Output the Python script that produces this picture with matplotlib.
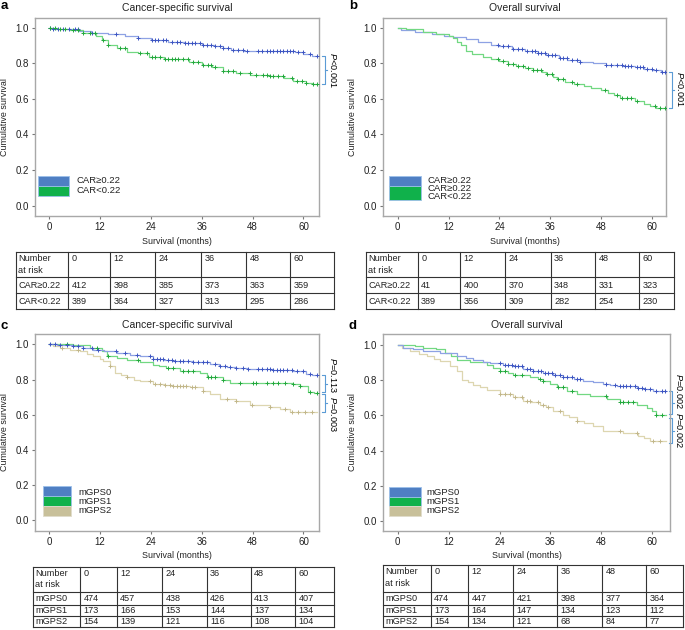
import numpy as np
import matplotlib.pyplot as plt
from matplotlib.patches import Rectangle

plt.rcParams['font.family'] = ['Liberation Sans', 'DejaVu Sans']
plt.rcParams['mathtext.fontset'] = 'custom'
plt.rcParams['mathtext.rm'] = 'Liberation Sans'
plt.rcParams['mathtext.it'] = 'Liberation Sans:italic'

month_ticks = [0, 12, 24, 36, 48, 60]
surv_ticks = [0.0, 0.2, 0.4, 0.6, 0.8, 1.0]
follow_up_end = 63.3

# (a) cancer-specific survival, CAR groups
a_hi_t = [0, 1, 4, 7, 10, 14, 18, 21, 24, 28, 32, 36, 39, 41, 43, 46, 58, 60, 62]
a_hi_s = [1.0, 0.995, 0.99, 0.983, 0.972, 0.963, 0.955, 0.942, 0.932, 0.922, 0.912, 0.903,
          0.895, 0.885, 0.875, 0.867, 0.862, 0.852, 0.84]
a_hi_cens = [0.2, 1.0, 2.2, 3.4, 4.6, 6.1, 6.9, 10.1, 15.9, 21.1, 24.2, 25.0, 25.8, 26.9, 27.7,
             28.9, 30.1, 30.9, 32.1, 32.8, 33.6, 34.4, 35.6, 36.4, 37.2, 38.3, 39.1, 40.3, 41.1,
             42.3, 43.4, 44.6, 45.8, 46.6, 49.3, 50.1, 51.3, 52.1, 52.9, 53.7, 54.4, 55.2, 56.0,
             56.8, 57.6, 58.8, 59.9, 61.5, 63.1]
a_lo_t = [0, 2, 5, 8, 11, 12.5, 14, 16, 18.5, 21, 23.5, 27, 33, 36, 38.5, 41, 44, 47.5, 52,
          55.5, 57.5, 60.5, 62]
a_lo_s = [1.0, 0.995, 0.987, 0.968, 0.953, 0.931, 0.903, 0.884, 0.865, 0.856, 0.837, 0.822,
          0.809, 0.79, 0.777, 0.758, 0.744, 0.734, 0.729, 0.716, 0.702, 0.691, 0.684]
a_lo_cens = [0.2, 1.4, 2.6, 3.8, 5.7, 6.9, 8.1, 9.7, 10.8, 12.8, 14.0, 16.7, 17.9, 21.4, 23.0,
             24.2, 25.0, 26.2, 27.3, 28.1, 28.9, 29.7, 30.5, 31.7, 32.8, 34.0, 35.2, 36.4, 37.6,
             38.3, 39.1, 41.1, 42.3, 43.4, 45.0, 47.4, 48.9, 50.5, 51.3, 52.1, 52.9, 54.1, 55.2,
             57.2, 58.4, 59.6, 60.7, 62.3, 63.1]

# (b) overall survival, CAR groups
b_hi_t = [0, 0.7, 4, 8, 11, 13, 16, 19, 22, 24, 27, 30, 33, 35, 38, 40, 43, 46, 49, 53, 56,
          58, 60, 62]
b_hi_s = [1.0, 0.987, 0.978, 0.965, 0.956, 0.946, 0.935, 0.918, 0.905, 0.897, 0.883, 0.869,
          0.856, 0.847, 0.832, 0.819, 0.808, 0.8, 0.79, 0.783, 0.778, 0.77, 0.762, 0.753]
b_hi_cens = [23.7, 24.9, 26.1, 27.3, 28.4, 29.2, 30.4, 31.6, 32.4, 33.1, 33.9, 34.7, 35.5, 36.3,
             37.1, 38.3, 39.0, 39.8, 41.0, 42.2, 43.0, 49.2, 50.4, 51.6, 52.8, 53.6, 54.4, 55.1,
             56.3, 57.1, 57.9, 58.7, 59.9, 61.0, 62.2, 63.0]
b_lo_t = [0, 2, 6, 9, 12, 13, 14, 15, 16, 17.5, 20, 22, 24, 26, 28, 30, 32, 34, 35, 36.5,
          37.5, 39.5, 41.5, 44, 45.5, 48, 49.5, 51, 52.5, 56, 58, 59.5, 61]
b_lo_s = [1.0, 0.99, 0.978, 0.965, 0.953, 0.94, 0.92, 0.903, 0.871, 0.85, 0.837, 0.826, 0.815,
          0.796, 0.785, 0.772, 0.763, 0.753, 0.74, 0.725, 0.71, 0.697, 0.682, 0.672, 0.66, 0.65,
          0.635, 0.622, 0.603, 0.59, 0.571, 0.56, 0.547]
b_lo_cens = [23.7, 24.9, 26.1, 27.3, 28.4, 29.6, 30.8, 32.0, 32.8, 33.9, 35.1, 36.3, 37.8, 39.0,
             41.0, 42.2, 48.9, 51.6, 52.8, 54.0, 55.1, 56.3, 60.6, 61.8, 63.0]

# (c) cancer-specific survival, mGPS groups
c_0_t = [0, 2, 5.7, 8, 10.4, 13, 16, 19, 21.4, 24.6, 27, 29.3, 34, 37.9, 40, 41.9, 44, 46.6,
         52.9, 57.6, 60.7, 62]
c_0_s = [1.0, 0.995, 0.989, 0.98, 0.97, 0.96, 0.95, 0.94, 0.932, 0.918, 0.912, 0.907, 0.9,
         0.888, 0.878, 0.869, 0.864, 0.86, 0.852, 0.847, 0.831, 0.824]
c_0_cens = [0.2, 1.4, 2.6, 4.2, 5.7, 6.9, 8.1, 10.1, 11.6, 15.9, 17.9, 20.7, 23.8, 24.6, 25.4,
            26.2, 26.9, 28.1, 28.9, 29.7, 30.9, 31.7, 32.8, 34.0, 35.2, 36.4, 37.2, 39.1, 40.3,
            41.5, 42.7, 44.2, 45.8, 47.0, 49.3, 50.1, 51.3, 52.1, 52.9, 53.7, 54.4, 55.2, 56.0,
            57.2, 58.4, 59.9, 61.5, 63.1]
c_1_t = [0, 5.7, 9.7, 12.4, 13.6, 16, 18.3, 21.4, 24.6, 26, 27.7, 30.9, 35.6, 37.2, 41.1, 42.7,
         57.6, 59.2, 61.1, 62.5]
c_1_s = [1.0, 0.994, 0.979, 0.96, 0.932, 0.922, 0.913, 0.9, 0.884, 0.875, 0.865, 0.847, 0.837,
         0.812, 0.799, 0.78, 0.775, 0.761, 0.729, 0.722]
c_1_cens = [4.2, 11.2, 14.0, 21.1, 28.1, 29.3, 31.7, 32.8, 34.0, 37.6, 38.3, 39.1, 41.1, 45.0,
            48.2, 48.9, 51.3, 52.9, 54.1, 55.6, 57.6, 59.2, 61.5, 63.1]
c_2_t = [0, 1, 2.6, 5, 7.3, 9, 10.4, 12, 12.8, 14.4, 15.6, 17, 18.3, 20, 21.4, 24.6, 27, 29.3,
         33.2, 36.4, 38, 40.3, 44.2, 47.4, 52.1, 54.5, 56.8]
c_2_s = [1.0, 0.99, 0.979, 0.97, 0.96, 0.945, 0.932, 0.918, 0.903, 0.875, 0.837, 0.825, 0.812,
         0.8, 0.79, 0.774, 0.768, 0.765, 0.756, 0.737, 0.72, 0.691, 0.676, 0.657, 0.642, 0.632,
         0.615]
c_2_cens = [3.0, 6.9, 14.4, 18.3, 23.8, 25.0, 26.2, 27.3, 28.5, 29.3, 30.1, 30.9, 31.7, 32.4,
            33.6, 34.4, 36.4, 41.9, 44.2, 47.8, 52.1, 55.6, 57.2, 58.8, 60.3, 61.9]

# (d) overall survival, mGPS groups
d_0_t = [0, 1.3, 3.5, 6, 10, 13.9, 16, 17.8, 20, 21.8, 24.9, 27, 29.6, 32, 34.3, 36.5, 39,
         41.5, 43.7, 46, 48.5, 50, 51.6, 56.3, 58, 60.2, 62]
d_0_s = [1.0, 0.983, 0.975, 0.964, 0.955, 0.936, 0.925, 0.917, 0.905, 0.898, 0.888, 0.878,
         0.865, 0.853, 0.841, 0.83, 0.816, 0.806, 0.797, 0.787, 0.778, 0.772, 0.765, 0.756,
         0.75, 0.74, 0.736]
d_0_cens = [24.1, 25.3, 26.1, 26.9, 27.6, 28.4, 29.2, 30.4, 31.2, 32.0, 33.1, 33.9, 34.7, 35.5,
            36.3, 37.1, 38.3, 39.0, 39.8, 41.0, 42.2, 43.0, 49.2, 51.2, 52.4, 53.2, 53.9, 54.7,
            55.9, 56.7, 57.5, 58.3, 59.5, 61.0, 62.2, 63.0]
d_1_t = [0, 4, 6, 9, 11.1, 12.5, 13.9, 17, 21, 22.5, 24.1, 26, 27.2, 31.2, 33, 34.3, 36, 37.5,
         40, 42.2, 45.3, 49.3, 52.4, 56.3, 58.7, 60, 61]
d_1_s = [1.0, 0.993, 0.985, 0.975, 0.955, 0.935, 0.917, 0.905, 0.888, 0.87, 0.85, 0.84, 0.828,
         0.816, 0.805, 0.794, 0.778, 0.76, 0.74, 0.722, 0.708, 0.695, 0.676, 0.661, 0.642,
         0.625, 0.603]
d_1_cens = [24.1, 25.3, 27.6, 29.2, 33.5, 34.3, 37.9, 39.0, 41.0, 49.2, 52.4, 53.2, 54.4, 55.5,
            61.0, 62.2]
d_2_t = [0, 1, 2.9, 5, 6.8, 8.5, 10, 12.3, 13.9, 15.1, 16.5, 17.8, 19.5, 21, 24.1, 27.2, 29.6,
         31.5, 33.5, 35, 36.7, 39, 40.5, 42.2, 44, 46.1, 48.5, 53.2, 56.7, 58, 59.5]
d_2_s = [1.0, 0.985, 0.964, 0.95, 0.936, 0.92, 0.907, 0.879, 0.85, 0.803, 0.79, 0.774, 0.76,
         0.746, 0.722, 0.703, 0.684, 0.675, 0.661, 0.645, 0.623, 0.604, 0.59, 0.57, 0.555,
         0.538, 0.51, 0.5, 0.481, 0.47, 0.453]
d_2_cens = [24.1, 25.3, 26.5, 27.6, 29.2, 30.4, 31.2, 33.1, 34.3, 35.5, 38.3, 42.2, 52.4, 56.3,
            60.2, 61.8]

# numbers at risk
risk_months = [0, 12, 24, 36, 48, 60]
car_labels = ['CAR\u22650.22', 'CAR<0.22']
gps_labels = ['mGPS0', 'mGPS1', 'mGPS2']
a_risk_hi = [412, 398, 385, 373, 363, 359]
a_risk_lo = [389, 364, 327, 313, 295, 286]
b_risk_hi = [41, 400, 370, 348, 331, 323]
b_risk_lo = [389, 356, 309, 282, 254, 230]
c_risk_0 = [474, 457, 438, 426, 413, 407]
c_risk_1 = [173, 166, 153, 144, 137, 134]
c_risk_2 = [154, 139, 121, 116, 108, 104]
d_risk_0 = [474, 447, 421, 398, 377, 364]
d_risk_1 = [173, 164, 147, 134, 123, 112]
d_risk_2 = [154, 134, 121, 68, 84, 77]

# colours
BLUE = dict(line='#8ea2e4', mark='#3d55c2', box='#4f7fc3', edge='#9cc0ea')
GREEN = dict(line='#72d882', mark='#22a83c', box='#10b14b', edge='#9cc0ea')
TAN = dict(line='#ddd6b0', mark='#c2b78a', box='#c8c09a', edge='#e0dccb')
BRACKET = '#5b9bd5'

W, H = 685, 630
PPM = 50.9 / 12  # pixels per month


def km(ax, t, s, cens, col):
    tt = list(t) + [follow_up_end]
    ss = np.array(list(s) + [s[-1]])
    ax.step(tt, ss, where='post', color=col['line'], lw=0.9, zorder=2)
    idx = np.searchsorted(tt, cens, side='right') - 1
    ax.plot(cens, ss[idx], ls='none', marker='+', color=col['mark'], ms=3.4, mew=0.7, zorder=3)


def setup_axes(fig, box, x0px, y1px, y0px, title):
    left, top, right, bottom = box
    ax = fig.add_axes([left / W, 1 - bottom / H, (right - left) / W, (bottom - top) / H])
    ppu = y0px - y1px
    ax.set_xlim((left - x0px) / PPM, (right - x0px) / PPM)
    ax.set_ylim((y0px - bottom) / ppu, (y0px - top) / ppu)
    ax.set_xticks(month_ticks)
    ax.set_yticks(surv_ticks)
    ax.set_yticklabels(['%.1f' % v for v in surv_ticks])
    for sp in ax.spines.values():
        sp.set_color('#a8a8a8')
        sp.set_linewidth(1.0)
    ax.tick_params(length=2.5, width=0.8, color='#777777', labelsize=7, pad=2,
                   labelcolor='#222222')
    ax.set_xlabel('Survival (months)', fontsize=6.4, color='#222222')
    ax.set_ylabel('Cumulative survival', fontsize=6.4, color='#222222')
    ax.xaxis.set_label_coords(0.5, -0.104)
    ax.yaxis.set_label_coords(-0.093, 0.5)
    ax.text(0.5, 1.0 + 9.4 / (bottom - top), title, transform=ax.transAxes,
            ha='center', va='center', fontsize=7.5, color='#222222')
    return ax


def bracket(ax, x, y_top, y_bot):
    ax.plot([x - 0.7, x, x, x - 0.7], [y_top, y_top, y_bot, y_bot], color=BRACKET, lw=0.8,
            clip_on=False)
    mid = (y_top + y_bot) / 2
    ax.plot([x, x + 0.5], [mid, mid], color=BRACKET, lw=0.8, clip_on=False)


def legend_boxes(ov, x0, x1, spans, cols, text_x, texts):
    for (y0, y1), col in zip(spans, cols):
        ov.add_patch(Rectangle((x0, y0), x1 - x0, y1 - y0, facecolor=col['box'],
                               edgecolor=col['edge'], lw=0.6))
    for label, y in texts:
        ov.text(text_x, y, label, ha='left', va='center', fontsize=6.8, color='#222222')


def risk_table(ov, cols, rows, labels, values):
    for x in cols:
        ov.plot([x, x], [rows[0], rows[-1]], color='#333333', lw=0.8)
    for y in rows:
        ov.plot([cols[0], cols[-1]], [y, y], color='#333333', lw=0.8)
    fs = 6.6
    ov.text(cols[0] + 2.5, rows[0] + 6.5, 'Number', va='center', fontsize=fs, color='#222222')
    ov.text(cols[0] + 2.5, rows[0] + 18, 'at risk', va='center', fontsize=fs, color='#222222')
    for j, m in enumerate(risk_months):
        ov.text(cols[j + 1] + 3.5, rows[0] + 6.5, str(m), va='center', fontsize=fs,
                color='#222222')
    for i, (lab, vals) in enumerate(zip(labels, values)):
        yc = (rows[i + 1] + rows[i + 2]) / 2
        ov.text(cols[0] + 2.5, yc, lab, va='center', fontsize=fs, color='#222222')
        for j, v in enumerate(vals):
            ov.text(cols[j + 1] + 3.5, yc, str(v), va='center', fontsize=fs, color='#222222')


fig = plt.figure(figsize=(6.85, 6.3), dpi=100)

ax_a = setup_axes(fig, (35, 17.7, 319, 216), 49, 27.7, 205.7, 'Cancer-specific survival')
ax_b = setup_axes(fig, (383.3, 17.7, 666, 216), 397.7, 27.7, 205.7, 'Overall survival')
ax_c = setup_axes(fig, (35, 334, 319, 530.7), 49, 344.3, 520.3, 'Cancer-specific survival')
ax_d = setup_axes(fig, (383.3, 334, 670, 530.7), 397.7, 345, 521, 'Overall survival')

km(ax_a, a_hi_t, a_hi_s, a_hi_cens, BLUE)
km(ax_a, a_lo_t, a_lo_s, a_lo_cens, GREEN)
km(ax_b, b_hi_t, b_hi_s, b_hi_cens, BLUE)
km(ax_b, b_lo_t, b_lo_s, b_lo_cens, GREEN)
km(ax_c, c_2_t, c_2_s, c_2_cens, TAN)
km(ax_c, c_1_t, c_1_s, c_1_cens, GREEN)
km(ax_c, c_0_t, c_0_s, c_0_cens, BLUE)
km(ax_d, d_2_t, d_2_s, d_2_cens, TAN)
km(ax_d, d_1_t, d_1_s, d_1_cens, GREEN)
km(ax_d, d_0_t, d_0_s, d_0_cens, BLUE)

bracket(ax_a, 65.0, a_hi_s[-1], a_lo_s[-1])
bracket(ax_b, 64.6, b_hi_s[-1], b_lo_s[-1])
bracket(ax_c, 65.0, c_0_s[-1], c_1_s[-1] + 0.006)
bracket(ax_c, 65.0, c_1_s[-1] - 0.006, c_2_s[-1])
bracket(ax_d, 64.6, d_0_s[-1], d_1_s[-1] + 0.006)
bracket(ax_d, 64.6, d_1_s[-1] - 0.018, d_2_s[-1] - 0.01)

# overlay in pixel coordinates for legends, tables, letters and p-values
ov = fig.add_axes([0, 0, 1, 1], facecolor='none')
ov.set_xlim(0, W)
ov.set_ylim(H, 0)
ov.axis('off')

for letter, x, y in [('a', 0.5, 6), ('b', 349, 6), ('c', 0.5, 326), ('d', 349, 326)]:
    ov.text(x, y, letter, ha='left', va='center', fontsize=9.5, fontweight='bold')

ov.text(333.5, 69.5, '$P$<0.001', rotation=270, ha='center', va='center', fontsize=6.6)
ov.text(680, 89, '$P$<0.001', rotation=270, ha='center', va='center', fontsize=6.6)
ov.text(333.5, 395, '$P$=0.113  $P$=0.003', rotation=270, ha='center', va='center',
        fontsize=6.6)
ov.text(679, 411, '$P$=0.002  $P$=0.002', rotation=270, ha='center', va='center',
        fontsize=6.6)

legend_boxes(ov, 38.3, 69.3, [(176, 185.7), (185.7, 195.7)], [BLUE, GREEN], 76.7,
             [(car_labels[0], 180.8), (car_labels[1], 190.7)])
legend_boxes(ov, 389.3, 420.7, [(176, 186), (186, 200)], [BLUE, GREEN], 427.7,
             [(car_labels[0], 180.5), (car_labels[0], 188.5), (car_labels[1], 196.7)])
legend_boxes(ov, 43.3, 70.7, [(486, 496), (496, 506), (506, 516)], [BLUE, GREEN, TAN], 78.7,
             [(gps_labels[0], 492.2), (gps_labels[1], 501.5), (gps_labels[2], 510.7)])
legend_boxes(ov, 389.3, 420.7, [(486.7, 496.7), (496.7, 506), (506, 516)], [BLUE, GREEN, TAN],
             426, [(gps_labels[0], 492.2), (gps_labels[1], 501.5), (gps_labels[2], 510.7)])

risk_table(ov, [16, 68, 110, 155, 201, 246, 290, 334], [252.3, 277, 293.3, 308.7],
           car_labels, [a_risk_hi, a_risk_lo])
risk_table(ov, [366, 417.7, 460, 505.3, 550.7, 595.3, 639.3, 674.3], [252.3, 277, 293.3, 308.7],
           car_labels, [b_risk_hi, b_risk_lo])
risk_table(ov, [32.7, 80, 116.7, 162.3, 206.7, 250.7, 295, 334],
           [566.7, 591.7, 604.7, 616, 627.3], gps_labels, [c_risk_0, c_risk_1, c_risk_2])
risk_table(ov, [382.7, 430.7, 468.3, 513.3, 557.3, 602.3, 646, 683],
           [565, 591.7, 604.7, 616, 626.7], gps_labels, [d_risk_0, d_risk_1, d_risk_2])

fig.savefig('out.png', dpi=100)
